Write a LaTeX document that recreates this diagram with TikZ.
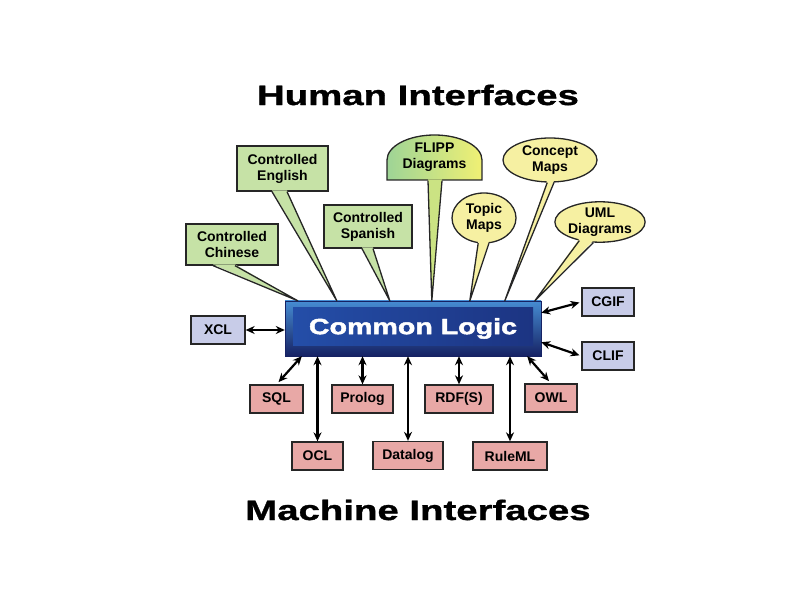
\documentclass[tikz,border=0pt]{standalone}
\usepackage{fontspec}
\setmainfont{Liberation Sans}
\newfontfamily\heavyfont[FakeStretch=1.37,FakeBold=1.2]{Liberation Sans}
\newfontfamily\logofont[FakeStretch=1.3,FakeBold=2.2]{Liberation Sans}
\usetikzlibrary{shapes.geometric,arrows.meta}

\definecolor{humangreen}{RGB}{198,226,166}
\definecolor{flippgreen}{RGB}{158,212,150}
\definecolor{humanyellow}{RGB}{246,240,162}
\definecolor{flippyellow}{RGB}{240,240,116}
\definecolor{machinepink}{RGB}{232,168,166}
\definecolor{formatblue}{RGB}{200,204,232}
\definecolor{clhi}{RGB}{70,140,210}
\definecolor{cllo}{RGB}{22,34,100}
\definecolor{clin}{RGB}{36,78,168}
\definecolor{clin2}{RGB}{28,52,130}

\tikzset{
  lang/.style={draw=black!85,line width=1.3pt,align=center,inner sep=0pt,
    font=\bfseries\fontsize{14}{16}\selectfont},
  ctrl/.style={lang,fill=humangreen},
  bubble/.style={lang,ellipse,fill=humanyellow},
  machine/.style={lang,fill=machinepink,minimum height=28pt},
  format/.style={lang,fill=formatblue,minimum height=28pt},
  tail/.style={draw=black!85,line width=1.3pt,line join=round},
  both/.style={line width=2.2pt,{Stealth[length=9pt,width=8pt]}-{Stealth[length=9pt,width=8pt]}},
  heading/.style={font=\heavyfont\bfseries\fontsize{28}{30}\selectfont}
}

\begin{document}
\begin{tikzpicture}[x=1pt,y=1pt]
\useasboundingbox (0,0) rectangle (800,600);

% headings
\node[heading] (human) at (418,505) {Human Interfaces};
\node[heading] (machine) at (418,90) {Machine Interfaces};

% the Common Logic box
\shade[top color=clhi,bottom color=cllo,draw=cllo] (285,244) rectangle (541,299);
\shade[left color=clin,right color=clin2] (293,254) rectangle (533,292);
\node[minimum width=256pt,minimum height=55pt,inner sep=0pt,text=white,
  font=\logofont\bfseries\fontsize{22}{22}\selectfont] (cl) at (413,271.5)
  {Common Logic};

% where the callouts point
\coordinate (tipchinese) at ([xshift=13pt]cl.north west);
\coordinate (tipenglish) at ([xshift=52pt]cl.north west);
\coordinate (tipspanish) at ([xshift=105pt]cl.north west);
\coordinate (tipflipp)   at ([xshift=147pt]cl.north west);
\coordinate (tiptopic)   at ([xshift=185pt]cl.north west);
\coordinate (tipconcept) at ([xshift=220pt]cl.north west);
\coordinate (tipuml)     at ([xshift=250pt]cl.north west);

% human interfaces
\node[ctrl,minimum width=92pt,minimum height=41pt] (chinese) at (232,355.5) {Controlled\\Chinese};
\node[ctrl,minimum width=91pt,minimum height=45pt] (english) at (282.5,431.5) {Controlled\\English};
\node[ctrl,minimum width=88pt,minimum height=43pt] (spanish) at (368,373.5) {Controlled\\Spanish};

\shade[left color=flippgreen,right color=flippyellow,draw=black!85,line width=1.3pt]
  (387,420) -- (387,440) arc[start angle=180,end angle=0,x radius=47.5pt,y radius=25pt]
  -- (482,420) -- cycle;
\node[lang,draw=none,minimum width=95pt,minimum height=45pt] (flipp) at (434.5,442.5) {FLIPP\\Diagrams};

\node[bubble,minimum width=94pt,minimum height=44pt] (concept) at (550,440) {Concept\\Maps};
\node[bubble,minimum width=64pt,minimum height=50pt] (topic) at (484,382) {Topic\\Maps};
\node[bubble,minimum width=86pt,minimum height=40pt] (uml) at (600,378) {UML\\Diagrams};

% callout tails
\foreach \n/\a/\b/\c in {chinese/-19/3/humangreen, english/-10.5/4.5/humangreen,
    spanish/-6/5/humangreen, flipp/-6.5/7.5/flippgreen!45!flippyellow} {
  \fill[\c] ([xshift=\a pt,yshift=1.2pt]\n.south) -- (tip\n) -- ([xshift=\b pt,yshift=1.2pt]\n.south) -- cycle;
  \draw[tail] ([xshift=\a pt]\n.south) -- (tip\n) -- ([xshift=\b pt]\n.south);
}
\foreach \n/\a/\b in {topic/-103/-79, concept/-97/-80, uml/-138/-108} {
  \fill[humanyellow] ([yshift=2pt]\n.\a) -- (tip\n) -- ([yshift=2pt]\n.\b) -- cycle;
  \draw[tail] (\n.\a) -- (tip\n) -- (\n.\b);
}

% other formats
\node[format,minimum width=54pt] (xcl) at (218,270) {XCL};
\node[format,minimum width=52pt] (cgif) at (608,298) {CGIF};
\node[format,minimum width=52pt] (clif) at (608,244) {CLIF};

\draw[both] (xcl.east) -- (xcl.east -| cl.west);
\draw[both,shorten >=2pt] ([yshift=-12pt]cl.north east) -- (cgif.west);
\draw[both,shorten >=2pt] ([yshift=14pt]cl.south east) -- (clif.west);

% machine interfaces
\node[machine,minimum width=53pt] (sql) at (276.5,201) {SQL};
\node[machine,minimum width=61pt] (prolog) at (362.5,201) {Prolog};
\node[machine,minimum width=68pt] (rdfs) at (459,201) {RDF(S)};
\node[machine,minimum width=52pt] (owl) at (551,202) {OWL};
\node[machine,minimum width=51pt] (ocl) at (317.5,144) {OCL};
\node[machine,minimum width=70pt] (datalog) at (408,144.5) {Datalog};
\node[machine,minimum width=74pt] (ruleml) at (510,144) {RuleML};

\draw[both,shorten <=3pt] (sql.north) -- ([xshift=17pt]cl.south west);
\draw[both,shorten <=3pt] (owl.north) -- ([xshift=-14pt]cl.south east);
\foreach \n in {prolog,rdfs,ocl,datalog,ruleml}
  \draw[both] (\n.north) -- (\n.north |- cl.south);
\end{tikzpicture}
\end{document}
